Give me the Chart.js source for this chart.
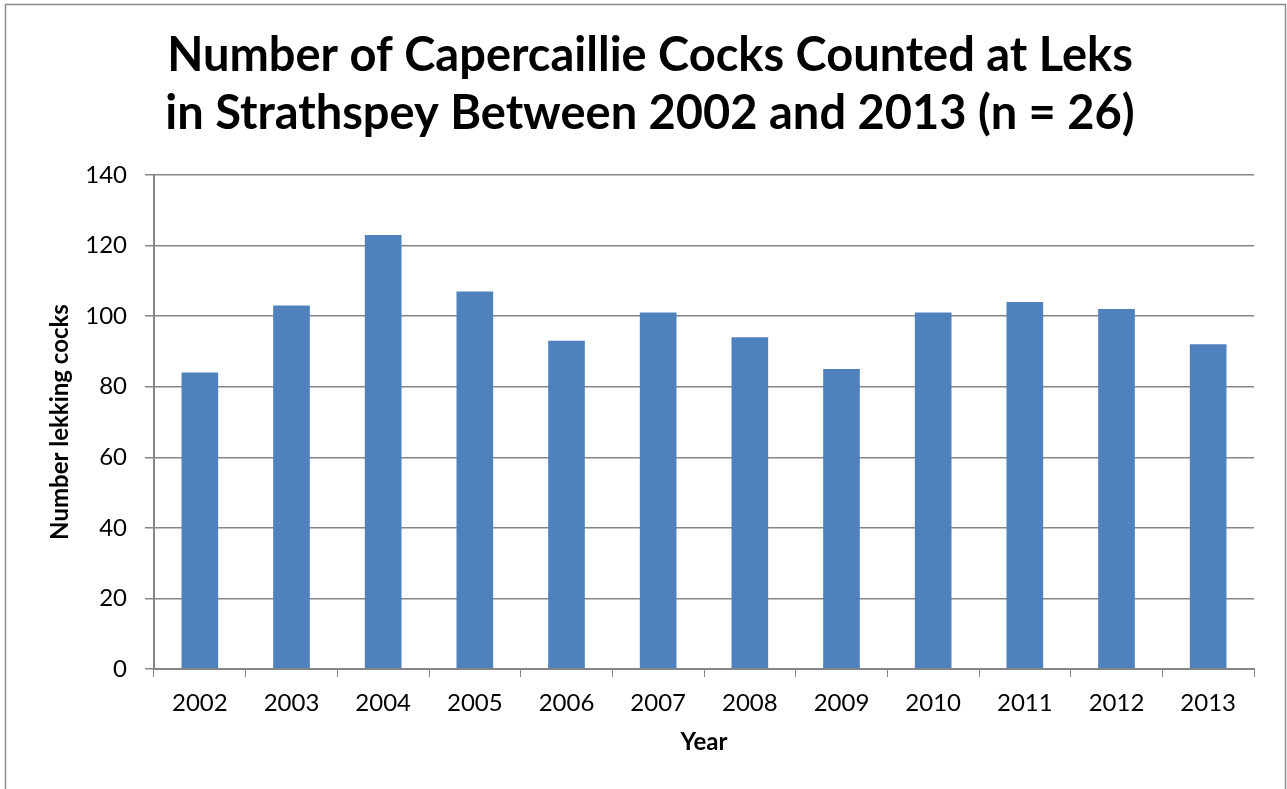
<!DOCTYPE html>
<html>
<head>
<meta charset="utf-8">
<script src="https://cdn.jsdelivr.net/npm/chart.js@4"></script>
<style>
html,body{margin:0;padding:0;background:#fff;}
#wrap{position:relative;width:1287px;height:789px;}
</style>
</head>
<body>
<div id="wrap"><canvas id="c" width="1287" height="789"></canvas></div>
<script>
const years = ["2002","2003","2004","2005","2006","2007","2008","2009","2010","2011","2012","2013"];
const cocks = [84,103,123,107,93,101,94,85,101,104,102,92];
const yTicks = [0,20,40,60,80,100,120,140];
const titleLines = ["Number of Capercaillie Cocks Counted at Leks","in Strathspey Between 2002 and 2013 (n = 26)"];

const GRID = '#868686';
const borderPlugin = {
  id:'outerBorder',
  beforeDraw(chart){
    const ctx = chart.ctx;
    ctx.save();
    ctx.fillStyle='#fff';
    ctx.fillRect(0,0,chart.width,chart.height);
    ctx.strokeStyle='#8c8c8c';
    ctx.lineWidth=1.5;
    ctx.strokeRect(5.5,4.5,1280,820);
    ctx.restore();
  }
};

new Chart(document.getElementById('c'),{
  type:'bar',
  data:{labels:years,datasets:[{data:cocks,backgroundColor:'#4F81BD',barPercentage:0.4,categoryPercentage:1}]},
  options:{
    responsive:false,animation:false,
    layout:{padding:{left:46,right:33,top:0,bottom:0}},
    plugins:{
      legend:{display:false},tooltip:{enabled:false},
      title:{display:true,text:titleLines,color:'#000',font:{family:'Lato',size:47,weight:'bold',lineHeight:1.234},padding:{top:27,bottom:32}}
    },
    scales:{
      x:{
        grid:{display:true,drawOnChartArea:false,drawTicks:true,tickLength:8,color:GRID,offset:true},
        border:{color:GRID,width:2},
        ticks:{color:'#000',font:{family:'Lato',size:24},padding:12,maxRotation:0},
        title:{display:true,text:'Year',color:'#000',font:{family:'Lato',size:24,weight:'bold'},padding:{top:4,bottom:32}},
        afterFit(s){ s.height = 789-669; }
      },
      y:{
        min:0,max:140,
        afterBuildTicks(s){ s.ticks = yTicks.map(v=>({value:v})); },
        grid:{color:GRID,lineWidth:1.5,drawTicks:true,tickLength:9},
        border:{color:GRID,width:2},
        ticks:{color:'#000',font:{family:'Lato',size:24},padding:18},
        title:{display:true,text:'Number lekking cocks',color:'#000',font:{family:'Lato',size:24,weight:'bold'},padding:0},
        afterFit(s){ s.width = 154-46; }
      }
    }
  },
  plugins:[borderPlugin]
});
</script>
</body>
</html>
